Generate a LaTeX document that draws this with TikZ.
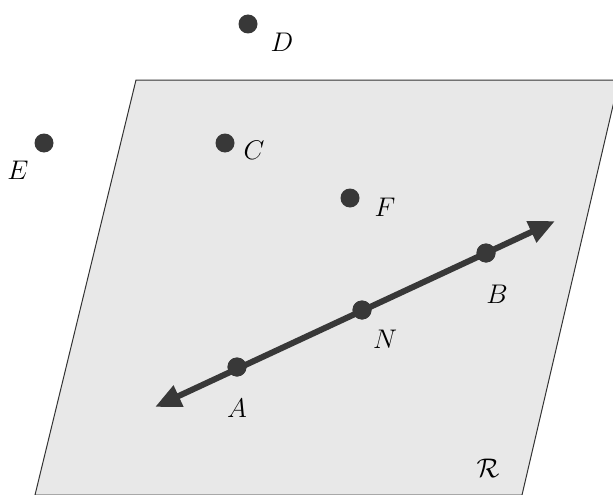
\documentclass[tikz,border=0pt]{standalone}
\usepackage{graphicx}
\usetikzlibrary{arrows.meta}
\newcommand\ptlab[1]{\scalebox{1.3}{$#1$}}
\begin{document}
\begin{tikzpicture}[x=1pt,y=-1pt,
  dot/.style={circle,fill=black!78,inner sep=0pt,minimum size=19pt},
  lbl/.style={font=\huge,inner sep=0pt},
  plane/.style={draw=black!80,line width=1pt,fill=black!9},
  rayline/.style={line width=6pt,draw=black!78,{Triangle[length=26pt,width=22pt]}-{Triangle[length=26pt,width=22pt]}}]
\useasboundingbox (0,0) rectangle (613,495);
\begin{scope}
\clip (0,0) rectangle (613,495);
\path[plane] (136,80) -- (619,80) -- (522,495) -- (35,495) -- cycle;
\end{scope}
\node[dot] (D) at (248,24) {};
\node[dot] (E) at (44,143) {};
\node[dot] (C) at (225,143) {};
\node[dot] (F) at (350,198) {};
\coordinate (la) at (155,407);
\coordinate (ra) at (555,221);
\node[dot] (A) at (237,367) {};
\node[dot] (N) at (362,310) {};
\node[dot] (B) at (486,253) {};
\draw[rayline] (la) -- (ra);
\node[dot] at (A) {};
\node[dot] at (N) {};
\node[dot] at (B) {};
\node[lbl] (lD) at (282,42) {\ptlab{D}};
\node[lbl] (lE) at (18,170) {\ptlab{E}};
\node[lbl] (lC) at (254,150) {\ptlab{C}};
\node[lbl] (lF) at (385,207) {\ptlab{F}};
\node[lbl] (lB) at (497,294) {\ptlab{B}};
\node[lbl] (lN) at (385,339) {\ptlab{N}};
\node[lbl] (lA) at (237,408) {\ptlab{A}};
\node[lbl] (lR) at (488,468) {\ptlab{\mathcal{R}}};
\end{tikzpicture}
\end{document}
